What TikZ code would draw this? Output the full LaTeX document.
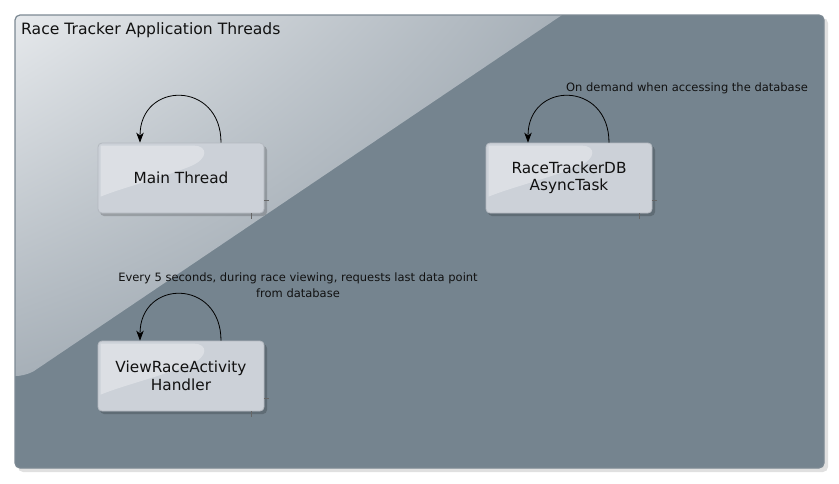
\documentclass[tikz,border=0pt]{standalone}
\usepackage{fontspec}
\setmainfont{DejaVu Sans}
\usetikzlibrary{arrows.meta,calc,shadings}
\definecolor{framebg}{HTML}{75848F}
\definecolor{frameedge}{HTML}{7C8993}
\definecolor{lightTL}{HTML}{E6E9EC}
\definecolor{lightMid}{HTML}{A7B0B8}
\definecolor{lightBR}{HTML}{8C98A2}
\definecolor{nodefill}{HTML}{CCD1D8}
\definecolor{nodeedge}{HTML}{B4B9C0}
\definecolor{txt}{HTML}{111111}
\tikzset{
  thread/.style={draw=nodeedge, fill=nodefill, rounded corners=4pt, line width=0.8pt,
    minimum width=166pt, minimum height=70pt, inner sep=0pt},
  threadtext/.style={align=center, inner sep=0pt, font=\fontsize{15.3}{17.5}\selectfont, text=txt},
  looparrow/.style={draw=black, line width=0.8pt, -{Stealth[length=10pt,width=7.5pt,inset=3pt]}},
  lbl/.style={font=\fontsize{11.5}{15.5}\selectfont, text=txt, inner sep=0pt, align=center},
  tickmark/.style={draw=black!60, line width=0.5pt},
  shadowbox/.style={fill=black, opacity=0.12, rounded corners=5pt}
}
\newcommand{\gloss}[1]{%
  \begin{scope}[shift={(#1.north west)}]
    \fill[white, opacity=0.32] (3,3) -- (96,3) .. controls (110,3) and (112,16) .. (92,24)
      .. controls (62,36) and (25,45) .. (3,54) -- cycle;
  \end{scope}}
\begin{document}
\begin{tikzpicture}[x=1pt,y=-1pt]
\useasboundingbox (0,0) rectangle (839,483);
% frame
\fill[shadowbox] (18,18) rectangle (828,472);
\fill[framebg, rounded corners=5pt] (15,15) rectangle (824,468);
\begin{scope}
  \clip[rounded corners=5pt] (15,15) rectangle (824,468);
  \shade[upper left=lightTL, upper right=lightMid, lower left=lightMid, lower right=lightBR]
    (15,15) -- (562,15) -- (34,371) [rounded corners=8pt] -- (24,376) [sharp corners] -- (15,376) -- cycle;
\end{scope}
\draw[frameedge, line width=1.2pt, rounded corners=5pt] (15,15) rectangle (824,468);
\node[anchor=west, font=\fontsize{15.6}{17}\selectfont, text=txt, inner sep=0pt] (title) at (21,30) {Race Tracker Application Threads};

% node shadows
\foreach \cx/\cy in {181/178, 569/178, 181/376}{
  \fill[shadowbox, opacity=0.18, rounded corners=4pt] (\cx-81,\cy-32) rectangle (\cx+86,\cy+38);
}
\node[thread] (main) at (181,178) {};
\node[thread] (db) at (569,178) {};
\node[thread] (view) at (181,376) {};
\gloss{main}\gloss{db}\gloss{view}
\node[threadtext] (maintext) at (main.center) {Main Thread};
\node[threadtext] (dbtext) at (db.center) {RaceTrackerDB\\AsyncTask};
\node[threadtext] (viewtext) at (view.center) {ViewRaceActivity\\Handler};

% tiny marks at node corners
\foreach \n in {main,db,view}{
  \draw[tickmark] ($(\n.south east)+(0,-13)$) -- ++(5,0);
  \draw[tickmark] ($(\n.south east)+(-13,0)$) -- ++(0,6);
}

% self loops
\draw[looparrow] ($(main.north)+(40,0)$) .. controls +(0,-62) and +(0,-62) .. ($(main.north)+(-41,0)$);
\draw[looparrow] ($(db.north)+(40,0)$) .. controls +(0,-62) and +(0,-62) .. ($(db.north)+(-41,0)$);
\draw[looparrow] ($(view.north)+(40,0)$) .. controls +(0,-62) and +(0,-62) .. ($(view.north)+(-41,0)$);

% labels
\node[lbl] (dblabel) at (687,88) {On demand when accessing the database};
\node[lbl] (viewlabel) at (298,285) {Every 5 seconds, during race viewing, requests last data point\\from database};
\end{tikzpicture}
\end{document}
